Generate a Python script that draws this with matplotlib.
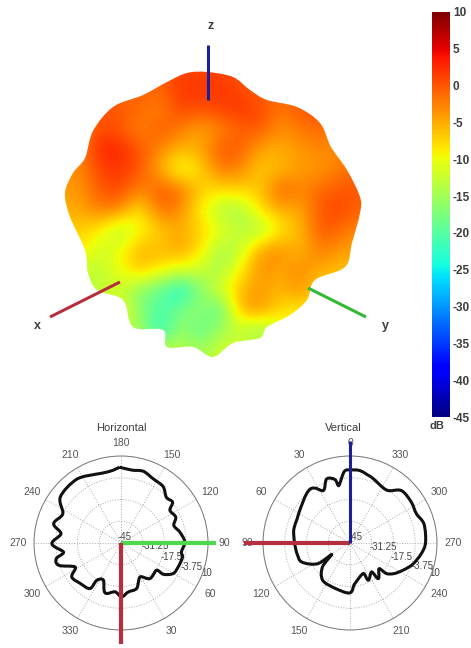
import matplotlib
matplotlib.use("Agg")
import matplotlib.pyplot as plt
import numpy as np
from matplotlib.path import Path
from matplotlib.patches import PathPatch

plt.rcParams['font.family'] = ['Liberation Sans', 'DejaVu Sans']
plt.rcParams['axes.unicode_minus'] = False

W, H = 471, 648

# gain (dB), one row every 20 px, x = 60..360, y = 70..350
surface_db = [
    [-3, -3, -1, -1, -1, -1, 1, 1, 1, 0, -1, -1, -1, -1, -1, -1],
    [-3, -3, -1, -1, -1, -1, 2, 2, 2, 1, -1, -1, -1, -1, -1, -1],
    [-3, -3, 0, 0, -1, -3, 1, 0, 1, 2, 1, -2, 0, 0, -1, -1],
    [-3, -3, 1, 0, -3, 0, -2, -5, -3, -1, 0, -4, -2, -1, -3, -3],
    [-4, -3, 3, 3, 0, -3, -6, -5, 0, 0, -5, -5, -4, -3, -3, -3],
    [-4, -3, 1, 2, 0, -5, -11, -8, -2, -3, -7, -6, -4, -4, -2, -1],
    [-4, -4, 0, 1, -3, 0, -1, -7, -8, -7, -7, 0, -3, -1, 0, 0],
    [-5, -5, -2, -3, -9, -1, -3, -9, -14, -15, -8, -5, -5, 0, 1, -1],
    [-7, -7, -9, -14, -10, -7, -5, -7, -10, -13, -15, -9, -6, 0, -1, -3],
    [-8, -8, -12, -10, -5, -6, -4, -8, -15, -13, -4, -3, -6, -2, -4, -5],
    [-12, -13, -13, -10, -6, -9, -11, -12, -15, -9, -3, -5, -3, -5, -6, -6],
    [-13, -13, -13, -12, -17, -19, -25, -17, -11, -6, -4, -6, -3, -8, -8, -8],
    [-13, -13, -13, -10, -16, -21, -18, -15, -21, -5, -3, -8, -9, -9, -9, -9],
    [-13, -13, -13, -13, -15, -24, -15, -20, -15, -13, -17, -11, -10, -10, -10, -10],
    [-13, -13, -13, -13, -13, -13, -13, -15, -12, -11, -11, -11, -10, -10, -10, -10],
]

# silhouette of the surface in figure pixels
outline_x = [207, 233, 250, 267, 297, 320, 331, 347, 360, 360, 352, 345, 315, 307, 290, 267, 260, 233,
             213, 193, 167, 163, 133, 123, 97, 88, 85, 70, 65, 73, 85, 93, 113, 143, 167, 187]
outline_y = [72, 77, 90, 100, 107, 123, 147, 170, 197, 213, 243, 267, 280, 300, 315, 327, 338, 343,
             357, 347, 347, 330, 327, 300, 290, 273, 250, 217, 193, 173, 158, 131, 107, 95, 82, 73]

colorbar_ticks = [10, 5, 0, -5, -10, -15, -20, -25, -30, -35, -40, -45]

ring_values = [-31.25, -17.5, -3.75, 10]
ring_labels = ['-45', '-31.25', '-17.5', '-3.75', '10']
angle_ticks = [0, 30, 60, 90, 120, 150, 180, 210, 240, 270, 300, 330]

horizontal_theta = [181, 171.7, 162.8, 153.3, 143.2, 135.2, 128.4, 123.7, 115.3, 108.4, 100.6, 91, 81.6, 77.2,
                    67.3, 59.6, 53.5, 52.5, 39.1, 29.2, 19, 8.5, 0.7, -7, -17.7, -25.3, -33, -34.2, -45.2,
                    -55.4, -62.4, -70.4, -76.4, -81, -89.4, -98.8, -106, -116.7, -127, -145.4, -160.7, -171.3, -179]
horizontal_db = [2.9, 1.6, 2.5, 0.4, -0.5, -4.3, -3.4, -7.8, -6.7, -9.8, -7.2, -4.7, -6.4, -5.1,
                 -5.8, -6.8, -11.8, -16.7, -16.0, -20.4, -14.6, -13.7, -11, -13.9, -11.9, -19, -16.9, -10.2, -8.7,
                 -7.2, -12.3, -3.1, -2.9, -8.2, -1.3, -6.6, -0.7, -3.8, 3.1, 4.1, 1.2, 0.9, 2.9]

vertical_theta = [0, -7.8, -18.2, -34.5, -44.4, -56.4, -66.3, -75.4, -90.5, -98.5, -109.9, -124.3, -130, -131.5,
                  -141.5, -143.2, -153.8, -156.5, -173, -180, -198, -216.5, -229, -238, -237, -248.5, -258.7, -282.6,
                  -299.6, -323.6, -333, -340, -346.7, -349, -355.5, -360]
vertical_db = [1.2, 1.2, -1.3, -4.3, 1.4, 1.6, 0.9, 3.3, 2.7, 0.6, -3.6, -10.8, -15, -20.5,
               -16.2, -22.2, -18.8, -24, -19.2, -13.5, -14.8, -15.8, -21.9, -31.4, -21.2, -12.2, -10.8, -8.5,
               -7.6, -2.6, -7.8, -1.9, -3.8, -8, 0.4, 1.2]

RED = '#b5303c'
GREEN = '#4fd84f'
BLUE = '#1a1f9c'
TXT = '#3c3c3c'


def curve_path(xs, ys, closed=False):
    # Catmull-Rom segments as beziers, so the curve passes through every read point
    p = np.column_stack([xs, ys]).astype(float)
    n = len(p)
    if closed:
        idx = lambda i: i % n
        segs = n
    else:
        idx = lambda i: min(max(i, 0), n - 1)
        segs = n - 1
    verts = [p[0]]
    codes = [Path.MOVETO]
    for i in range(segs):
        c1 = p[idx(i)] + (p[idx(i + 1)] - p[idx(i - 1)]) / 6
        c2 = p[idx(i + 1)] - (p[idx(i + 2)] - p[idx(i)]) / 6
        verts += [c1, c2, p[idx(i + 1)]]
        codes += [Path.CURVE4] * 3
    return Path(np.array(verts), codes)


def polar_panel(rect, zero, theta, db, labels):
    ax = fig.add_axes(rect, projection='polar')
    ax.set_theta_zero_location(zero)
    ax.set_theta_direction(1)
    ax.set_ylim(-45, 10)
    ax.set_rgrids(ring_values, labels=[''] * 4)
    ax.set_thetagrids(angle_ticks, labels=[''] * 12)
    ax.grid(True, color='#aaaaaa', linestyle=':', linewidth=0.7)
    ax.spines['polar'].set_color('#777777')
    ax.spines['polar'].set_linewidth(0.7)
    ax.patch.set_alpha(0)
    for ang, lab in zip(angle_ticks, labels):
        # labels sit a bit further out at the sides than at top and bottom
        vis = np.radians(ang)
        r = 10 + (13 + 3 * abs(np.sin(vis))) * 55 / 87
        ax.text(vis, r, lab, fontsize=7.5, color='#555555', ha='center', va='center', clip_on=False)
    curve = PathPatch(curve_path(np.radians(theta), db), transform=ax.transData, facecolor='none',
                      edgecolor='#111111', linewidth=2.2, zorder=3, joinstyle='round')
    ax.add_patch(curve)
    return ax


fig = plt.figure(figsize=(W / 100, H / 100), dpi=100)

# pixel axes for the surface and its axis stubs
bg = fig.add_axes([0, 0, 1, 1])
im = bg.imshow(surface_db, cmap='jet', vmin=-45, vmax=10, extent=(50, 370, 360, 60),
               interpolation='bicubic', aspect='auto')
patch = PathPatch(curve_path(outline_x, outline_y, closed=True), transform=bg.transData,
                  facecolor='none', edgecolor='none')
bg.add_patch(patch)
im.set_clip_path(patch)
bg.set_xlim(0, W)
bg.set_ylim(H, 0)
bg.axis('off')

bg.plot([208, 208], [45, 100], color=BLUE, linewidth=2.2, solid_capstyle='butt')
bg.plot([50, 120], [317, 282], color=RED, linewidth=2.2, solid_capstyle='butt')
bg.plot([308, 366], [288, 317], color='#35b835', linewidth=2.2, solid_capstyle='butt')
bg.text(211, 26, 'z', fontsize=9, fontweight='bold', color=TXT, ha='center', va='center')
bg.text(37, 326, 'x', fontsize=9, fontweight='bold', color=TXT, ha='center', va='center')
bg.text(385, 326, 'y', fontsize=9, fontweight='bold', color=TXT, ha='center', va='center')
bg.text(121, 428, 'Horizontal', fontsize=8, color=TXT, ha='center', va='center')
bg.text(343, 428, 'Vertical', fontsize=8, color=TXT, ha='center', va='center')
bg.text(437, 426, 'dB', fontsize=8, fontweight='bold', color=TXT, ha='center', va='center')

# radial labels, under the traces
for lab, x, y in zip(ring_labels, [125, 155, 172, 192, 207], [537, 546, 557, 567, 573]):
    bg.text(x, y, lab, fontsize=7, color='#444444', ha='center', va='center')
for lab, x, y in zip(ring_labels, [356, 383, 402, 423, 435], [537, 547, 557, 566, 573]):
    bg.text(x, y, lab, fontsize=7, color='#444444', ha='center', va='center')

# colorbar
cax = fig.add_axes([432 / W, 1 - 417 / H, 18 / W, 405 / H])
cb = fig.colorbar(im, cax=cax, ticks=colorbar_ticks)
cb.outline.set_visible(False)
cax.tick_params(length=0, pad=2, labelsize=8.5, labelcolor=TXT)
for t in cax.get_yticklabels():
    t.set_fontweight('bold')

# polar cuts
h_labels = ['', '30', '60', '90', '120', '150', '180', '210', '240', '270', '300', '330']
ax_h = polar_panel([34 / W, 1 - 630 / H, 174 / W, 174 / H], 'S', horizontal_theta, horizontal_db, h_labels)
ax_h.plot([np.radians(90), np.radians(90)], [-45, 15.3], color=GREEN, linewidth=3, clip_on=False, zorder=4,
          solid_capstyle='butt')
ax_h.plot([0, 0], [-45, 19], color=RED, linewidth=3, clip_on=False, zorder=4, solid_capstyle='butt')

v_labels = ['0', '30', '60', '90', '120', '150', '', '210', '240', '270', '300', '330']
ax_v = polar_panel([263 / W, 1 - 630 / H, 174 / W, 174 / H], 'N', vertical_theta, vertical_db, v_labels)
ax_v.plot([np.radians(90), np.radians(90)], [-45, 22], color=RED, linewidth=3, clip_on=False, zorder=4,
          solid_capstyle='butt')
ax_v.plot([0, 0], [-45, 19.7], color=BLUE, linewidth=2.2, clip_on=False, zorder=4, solid_capstyle='butt')

fig.savefig('out.png', dpi=100)
